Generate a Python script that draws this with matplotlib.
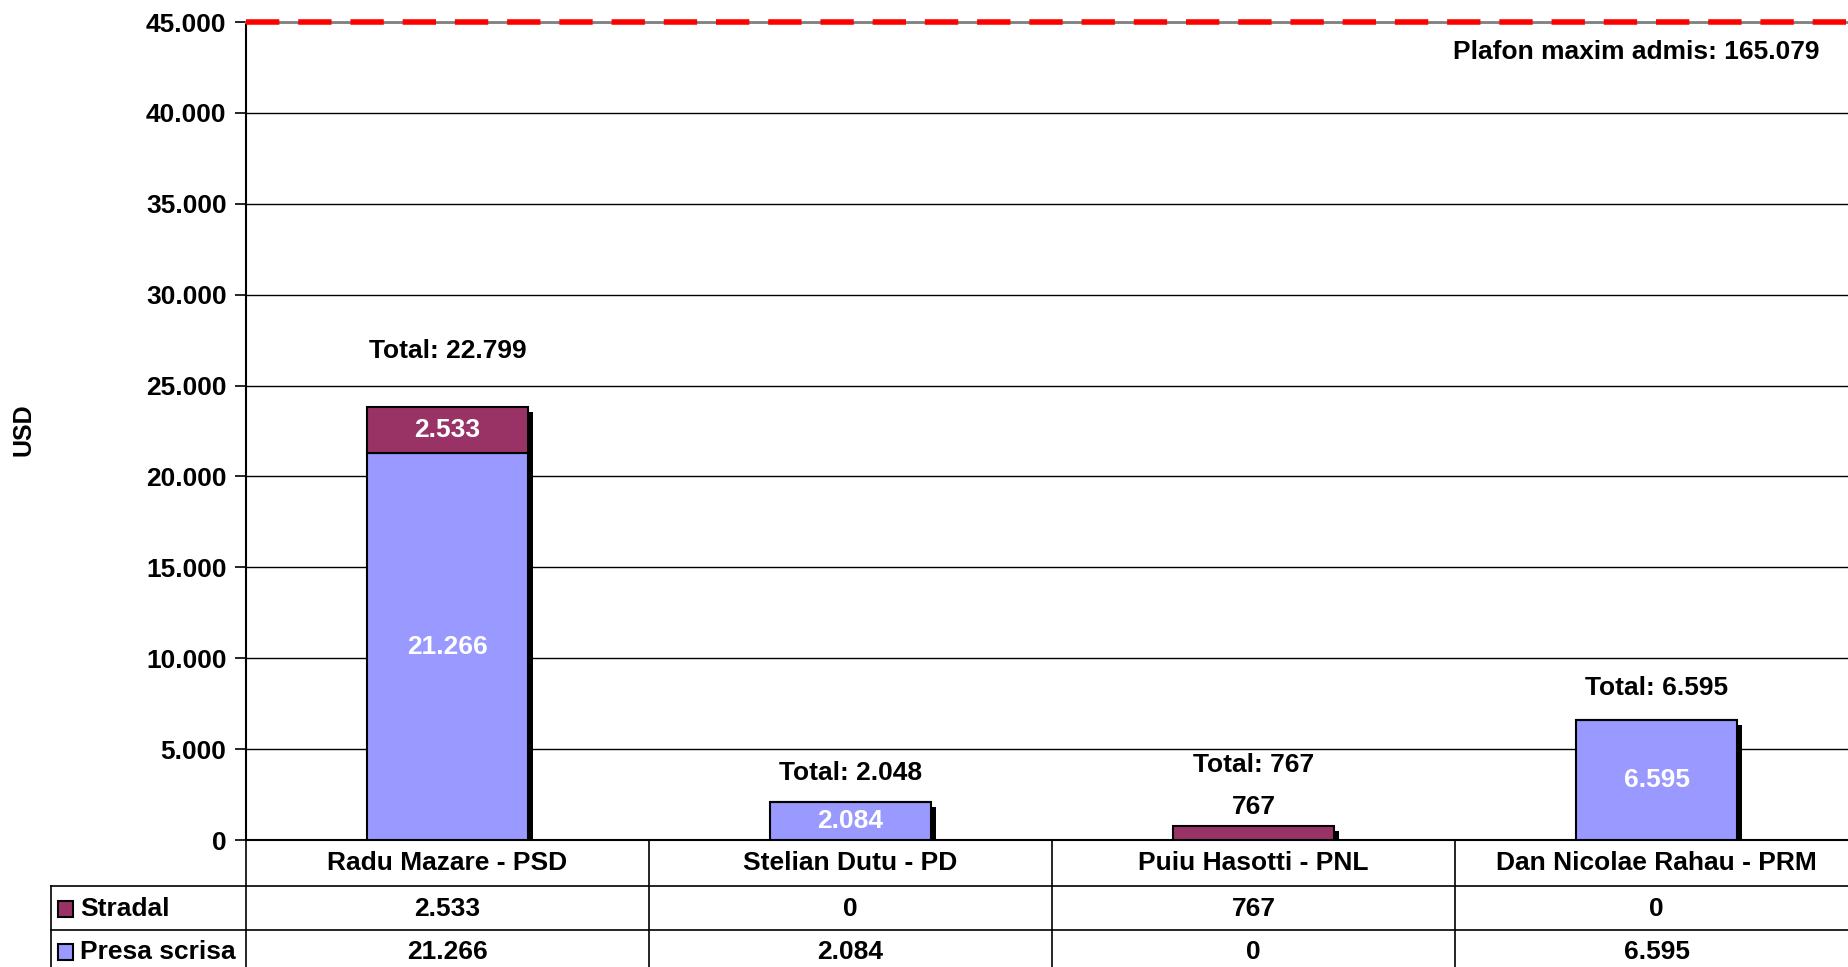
import matplotlib.pyplot as plt
import matplotlib.transforms as mtransforms
from matplotlib.lines import Line2D
from matplotlib.patches import Rectangle

# Data
candidates = ["Radu Mazare - PSD", "Stelian Dutu - PD", "Puiu Hasotti - PNL", "Dan Nicolae Rahau - PRM"]
stradal = [2533, 0, 767, 0]
presa = [21266, 2084, 0, 6595]
totals = [22799, 2048, 767, 6595]
plafon = 165079
yticks = [0, 5000, 10000, 15000, 20000, 25000, 30000, 35000, 40000, 45000]

c_presa = "#9999FF"
c_stradal = "#993366"

plt.rcParams['font.family'] = ['Liberation Sans', 'DejaVu Sans']
plt.rcParams['font.weight'] = 'bold'
FS = 19


def fmt(v):
    return f"{v:,.0f}".replace(",", ".")


W, H = 1848, 967
fig = plt.figure(figsize=(W / 100, H / 100), dpi=100)
ax = fig.add_axes([246 / W, 1 - 840 / H, 1612 / W, 818 / H])

x = list(range(len(candidates)))
bw = 0.4

# shadows
shadow = ax.transData + mtransforms.ScaledTranslation(5 / 100, -5 / 100, fig.dpi_scale_trans)
for i in x:
    tot = stradal[i] + presa[i]
    ax.bar(i, tot, bw, color="black", transform=shadow, zorder=2)

ax.bar(x, presa, bw, color=c_presa, edgecolor="black", linewidth=1.5, zorder=3)
ax.bar(x, stradal, bw, bottom=presa, color=c_stradal, edgecolor="black", linewidth=1.5, zorder=3)

# segment labels
for i in x:
    if presa[i] > 0:
        ax.text(i, presa[i] / 2, fmt(presa[i]), ha="center", va="center",
                color="white", fontsize=FS, fontweight="bold", zorder=5)
    if stradal[i] > 1500:
        ax.text(i, presa[i] + stradal[i] / 2, fmt(stradal[i]), ha="center", va="center",
                color="white", fontsize=FS, fontweight="bold", zorder=5)
    elif stradal[i] > 0:
        ax.annotate(fmt(stradal[i]), (i, presa[i] + stradal[i]), xytext=(0, 19),
                    textcoords="offset pixels", ha="center", va="center",
                    fontsize=FS, fontweight="bold", zorder=5)

# total labels
total_offsets = [56, 29, 61, 32]
for i in x:
    top = stradal[i] + presa[i]
    ax.annotate(f"Total: {fmt(totals[i])}", (i, top), xytext=(0, total_offsets[i]),
                textcoords="offset pixels", ha="center", va="center",
                fontsize=FS, fontweight="bold", zorder=5)

# plafon line (off the scale, drawn at top)
ax.axhline(45000, color="#808080", linewidth=2, zorder=4, clip_on=False)
ax.axhline(45000, color="red", linewidth=4, dashes=(6, 3.4), zorder=5, clip_on=False)
ax.text(0.976, 0.963, f"Plafon maxim admis: {fmt(plafon)}", transform=ax.transAxes,
        ha="right", va="center", fontsize=FS, fontweight="bold")

ax.set_xlim(-0.5, 3.5)
ax.set_ylim(0, 45000)
ax.set_yticks(yticks)
ax.set_yticklabels([fmt(v) for v in yticks], fontsize=FS, fontweight="bold")
ax.yaxis.grid(True, color="black", linewidth=1)
ax.set_axisbelow(True)
ax.set_xticks([])
ax.tick_params(axis="y", direction="out", length=8, width=1.2, pad=6)
for s in ["top", "right"]:
    ax.spines[s].set_visible(False)
ax.spines["left"].set_linewidth(1.5)
ax.spines["bottom"].set_linewidth(1.5)

fig.text(24 / W, 1 - 430 / H, "USD", rotation=90, ha="center", va="center",
         fontsize=FS - 1, fontweight="bold")

# data table below the axis
bt = mtransforms.blended_transform_factory(ax.transData, fig.transFigure)
y_cat, y_r1, y_r2 = 1 - 863 / H, 1 - 909 / H, 1 - 952 / H
rows = [("Stradal", stradal, c_stradal, y_r1), ("Presa scrisa", presa, c_presa, y_r2)]
for i in x:
    ax.text(i, y_cat, candidates[i], transform=bt, ha="center", va="center",
            fontsize=FS, fontweight="bold", clip_on=False)
    for _, vals, _, yy in rows:
        ax.text(i, yy, fmt(vals[i]), transform=bt, ha="center", va="center",
                fontsize=FS, fontweight="bold", clip_on=False)

for xb in [-0.5, 0.5, 1.5, 2.5, 3.5]:
    ax.add_line(Line2D([xb, xb], [0, 1 - 840 / H], transform=bt, color="black",
                       linewidth=1.2, clip_on=False))
for yl in [1 - 886 / H, 1 - 930 / H]:
    fig.add_artist(Line2D([51 / W, 1], [yl, yl], color="black", linewidth=1.2))
fig.add_artist(Line2D([51 / W, 51 / W], [0, 1 - 886 / H], color="black", linewidth=1.2))

for name, _, col, yy in rows:
    fig.add_artist(Rectangle((58 / W, yy - 8 / H), 15 / W, 16 / H, facecolor=col,
                             edgecolor="black", linewidth=1.5))
    fig.text(80 / W, yy, name, ha="left", va="center", fontsize=FS, fontweight="bold")

fig.savefig("out.png", dpi=100)
